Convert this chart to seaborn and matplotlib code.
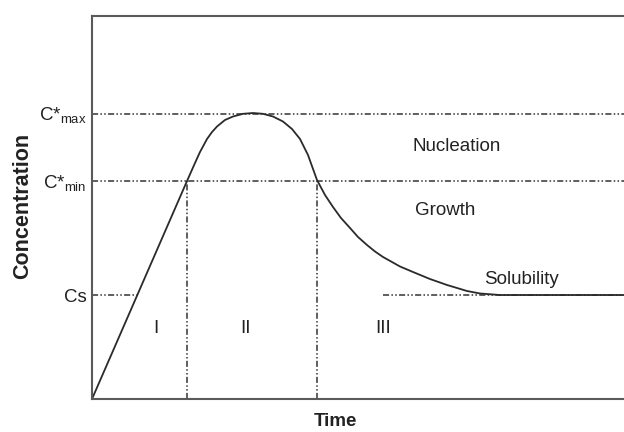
import numpy as np
import pandas as pd
import matplotlib
matplotlib.use("Agg")
import matplotlib.pyplot as plt
import seaborn as sns

# LaMer diagram, arbitrary units
time = [0.0, 1.786, 1.936, 2.030, 2.162, 2.256, 2.350, 2.500, 2.650, 2.838,
        3.026, 3.214, 3.402, 3.590, 3.759, 3.910, 4.060, 4.229, 4.380, 4.530,
        4.680, 4.850, 5.000, 5.169, 5.320, 5.470, 5.639, 5.789, 6.034, 6.353,
        6.673, 7.049, 7.293, 7.669, 10.0]
conc = [0.0, 5.692, 6.162, 6.449, 6.789, 6.971, 7.115, 7.285, 7.376, 7.446,
        7.467, 7.446, 7.376, 7.245, 7.050, 6.789, 6.371, 5.718, 5.326, 5.013,
        4.726, 4.465, 4.230, 4.021, 3.851, 3.708, 3.577, 3.460, 3.316, 3.133,
        2.977, 2.820, 2.755, 2.715, 2.715]

c_s = 2.715
c_min = 5.69
c_max = 7.45
t_nuc_start = 1.79
t_nuc_end = 4.23
t_cs_left = 0.86
t_cs_right = 5.47

level_ticks = [c_s, c_min, c_max]
level_labels = ["Cs", "C*$_{\\mathregular{min}}$", "C*$_{\\mathregular{max}}$"]

region_names = ["I", "II", "III"]
region_x = [1.20, 2.88, 5.47]
region_y = 1.85

zone_names = ["Nucleation", "Growth", "Solubility"]
zone_x = [6.02, 6.07, 7.37]
zone_y = [6.58, 4.91, 3.11]

sns.set_style("white")
plt.rcParams['font.family'] = ['Liberation Sans', 'DejaVu Sans']
plt.rcParams['mathtext.fontset'] = 'custom'
plt.rcParams['mathtext.rm'] = 'Liberation Sans'

fig = plt.figure(figsize=(6.24, 4.32), dpi=100)
ax = fig.add_axes([92/624, 33/432, 532/624, 383/432])

dd = (0, (4, 1.5, 1, 1.5, 1, 1.5))
lc = '#333333'
lw = 1.1

# guide lines
ax.plot([0, 10], [c_max, c_max], color=lc, lw=lw, ls=dd)
ax.plot([0, 10], [c_min, c_min], color=lc, lw=lw, ls=dd)
ax.plot([0, t_cs_left], [c_s, c_s], color=lc, lw=lw, ls=dd)
ax.plot([t_cs_right, 10], [c_s, c_s], color=lc, lw=lw, ls=dd)
ax.plot([t_nuc_start, t_nuc_start], [0, c_min], color=lc, lw=lw, ls=dd)
ax.plot([t_nuc_end, t_nuc_end], [0, c_min], color=lc, lw=lw, ls=dd)

df = pd.DataFrame({'time': time, 'conc': conc})
sns.lineplot(data=df, x='time', y='conc', sort=False, estimator=None,
             color='#2a2a2a', lw=1.3, ax=ax)

for name, x in zip(region_names, region_x):
    ax.text(x, region_y, name, fontsize=13.5, ha='center', va='center', color='#222222')
for name, x, y in zip(zone_names, zone_x, zone_y):
    ax.text(x, y, name, fontsize=13.5, ha='left', va='center', color='#222222')

ax.set_xlim(0, 10)
ax.set_ylim(0, 10)
ax.set_xticks([])
ax.set_yticks(level_ticks)
ax.set_yticklabels(level_labels, fontsize=13.5, color='#222222')
ax.tick_params(axis='y', length=0, pad=4)

ax.set_xlabel('Time', fontsize=13.5, fontweight='bold', color='#222222')
ax.set_ylabel('Concentration', fontsize=15.5, fontweight='bold', color='#222222')
ax.xaxis.set_label_coords(0.457, -0.037)
ax.yaxis.set_label_coords(-0.111, 0.505)

for side in ['left', 'top', 'bottom']:
    ax.spines[side].set_color('#5a5a5a')
    ax.spines[side].set_linewidth(1.5)
ax.spines['right'].set_visible(False)

fig.savefig('out.png', dpi=100)
